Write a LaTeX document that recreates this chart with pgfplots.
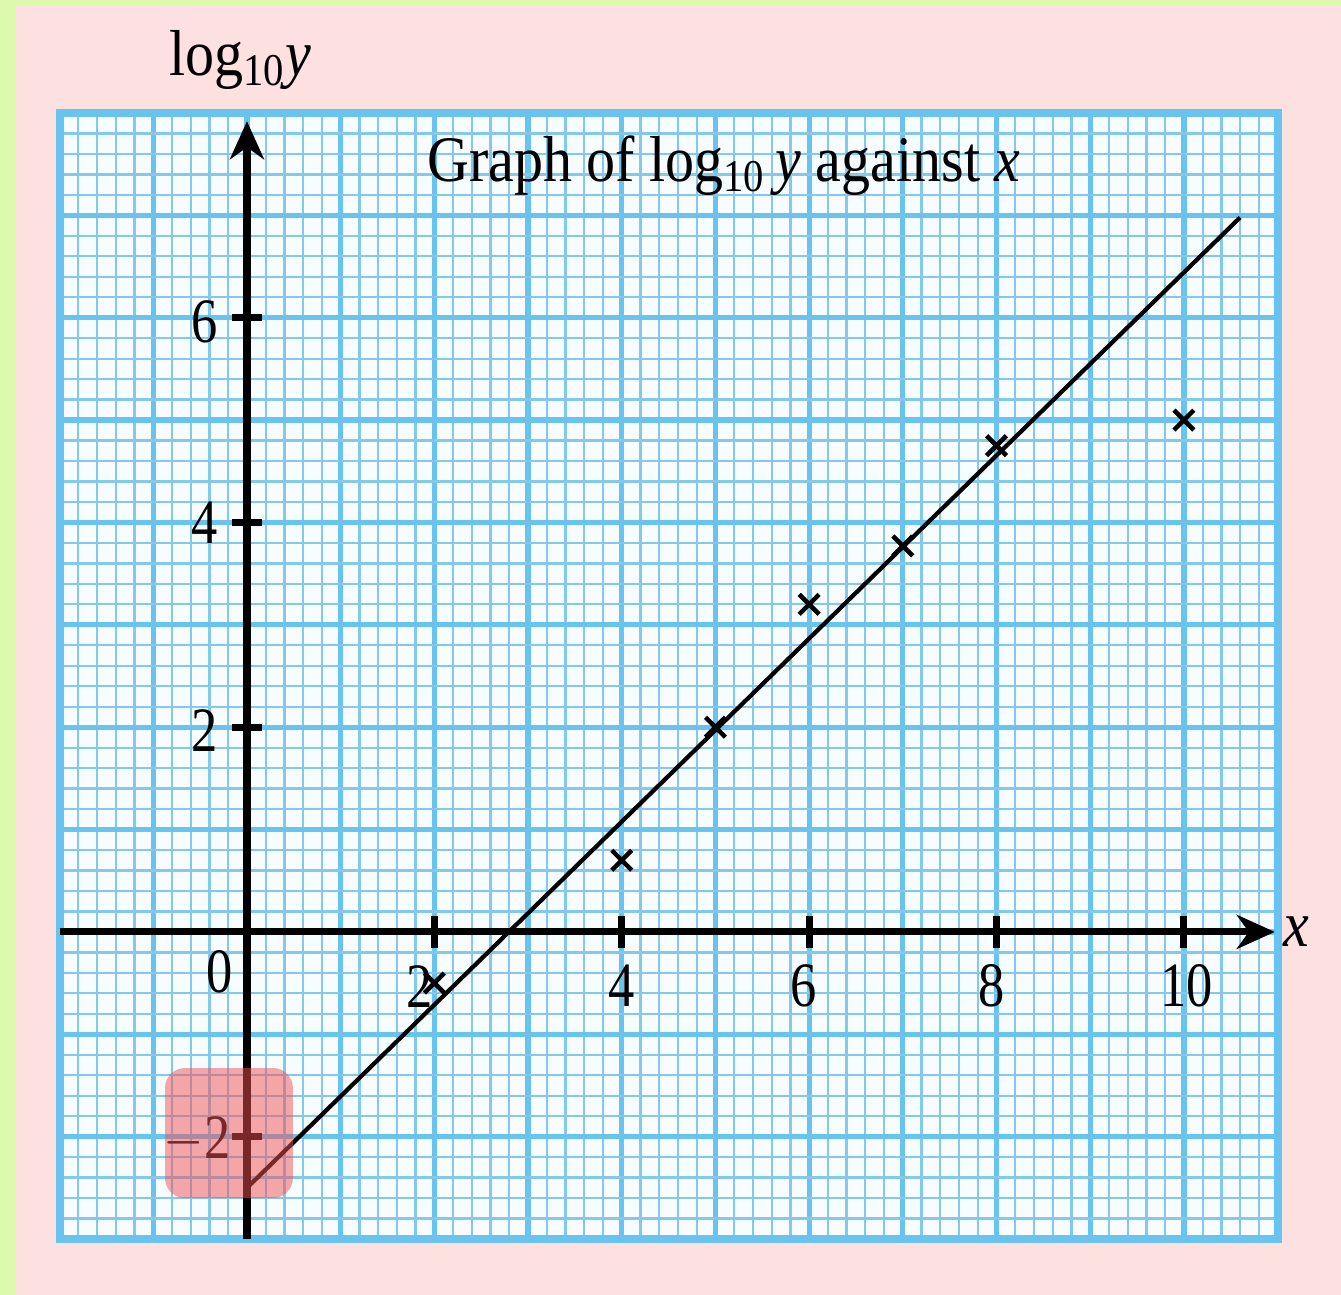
\documentclass[border=0pt]{standalone}
\usepackage{pgfplots}
\pgfplotsset{compat=1.18}
\usepackage{pgfplotstable}
\usepackage{fontspec}
\setmainfont{Liberation Serif}
\usetikzlibrary{arrows.meta}

\definecolor{paperbg}{HTML}{F7FCFF}
\definecolor{gridblue}{HTML}{68C4EE}
\definecolor{minorblue}{HTML}{84C8EA}
\definecolor{pinkbg}{HTML}{FDE0E0}
\definecolor{greenbg}{HTML}{DDF9AE}
\definecolor{highlight}{HTML}{F05050}

% measured points (x, log10 y)
\pgfplotstableread{
x y
2 -0.5
4 0.7
5 2.0
6 3.2
7 3.77
8 4.75
10 5.0
}\measured

% line of best fit
\pgfplotstableread{
x y
0 -2.5
10.6 6.98
}\fitline

\newcommand{\ticklab}[1]{\scalebox{1.03}[1.24]{\fontsize{14.5}{16}\selectfont #1}}

\begin{document}
\begin{tikzpicture}
\useasboundingbox (-5.96mm,-5.6mm) rectangle (128.14mm,123.9mm);
\fill[greenbg] (-5.96mm,-5.6mm) rectangle (128.14mm,123.9mm);
\fill[pinkbg] (-4.46mm,-5.6mm) rectangle (128.14mm,123.3mm);
\begin{axis}[
  at={(0,0)}, anchor=south west,
  scale only axis,
  width=121.8mm, height=112.6mm,
  xmin=-2, xmax=11, ymin=-3, ymax=8,
  xtick={-2,...,11}, ytick={-3,...,8},
  minor tick num=4,
  xticklabels={}, yticklabels={},
  major tick length=0pt, minor tick length=0pt,
  grid=both,
  minor grid style={minorblue, line width=0.65pt},
  major grid style={gridblue, line width=1.5pt},
  axis line style={gridblue, line width=2.3pt},
  axis background/.style={fill=paperbg},
  clip=false,
]
% coordinate axes
\draw[black, line width=2pt, -{Stealth[length=3.8mm, width=3.4mm, inset=1.2mm]}]
  (axis cs:-2,0) -- (axis cs:10.97,0);
\draw[black, line width=2pt, -{Stealth[length=3.8mm, width=3.4mm, inset=1.2mm]}]
  (axis cs:0,-3) -- (axis cs:0,7.92);
\pgfplotsinvokeforeach{2,4,6,8,10}{
  \draw[black, line width=2pt] ([yshift=-1.6mm]axis cs:#1,0) -- ([yshift=1.6mm]axis cs:#1,0);
}
\pgfplotsinvokeforeach{-2,2,4,6}{
  \draw[black, line width=2pt] ([xshift=-1.5mm]axis cs:0,#1) -- ([xshift=1.5mm]axis cs:0,#1);
}

% tick labels
\node at (axis cs:-0.29,-0.39) {\ticklab{0}};
\node at (axis cs:1.84,-0.53) {\ticklab{2}};
\node at (axis cs:4.0,-0.53) {\ticklab{4}};
\node at (axis cs:5.94,-0.53) {\ticklab{6}};
\node at (axis cs:7.95,-0.53) {\ticklab{8}};
\node at (axis cs:10.03,-0.53) {\ticklab{10}};
\node at (axis cs:-0.45,5.96) {\ticklab{6}};
\node at (axis cs:-0.45,4.0) {\ticklab{4}};
\node at (axis cs:-0.45,1.97) {\ticklab{2}};
\node at (axis cs:-0.53,-2.03) {\ticklab{$-$2}};

% axis names and title
\node at (axis cs:-0.07,8.52) {\scalebox{1}[1.12]{\fontsize{16.5}{18}\selectfont log\textsubscript{10}\textit{y}}};
\node at (axis cs:11.2,0) {\scalebox{1}[1.12]{\fontsize{16.5}{18}\selectfont\textit{x}}};
\node at (axis cs:5.09,7.49) {\scalebox{1}[1.12]{\fontsize{16.5}{18}\selectfont Graph of log\textsubscript{10}\,\textit{y} against \textit{x}}};

\addplot[black, line width=1.2pt] table {\fitline};
\addplot[only marks, black, mark=x, mark size=4pt, mark options={line width=1.3pt}] table {\measured};

% highlighted region near the intercept
\fill[highlight, opacity=0.5, rounded corners=2mm] (axis cs:-0.875,-1.33) rectangle (axis cs:0.49,-2.6);
\end{axis}
\end{tikzpicture}
\end{document}
